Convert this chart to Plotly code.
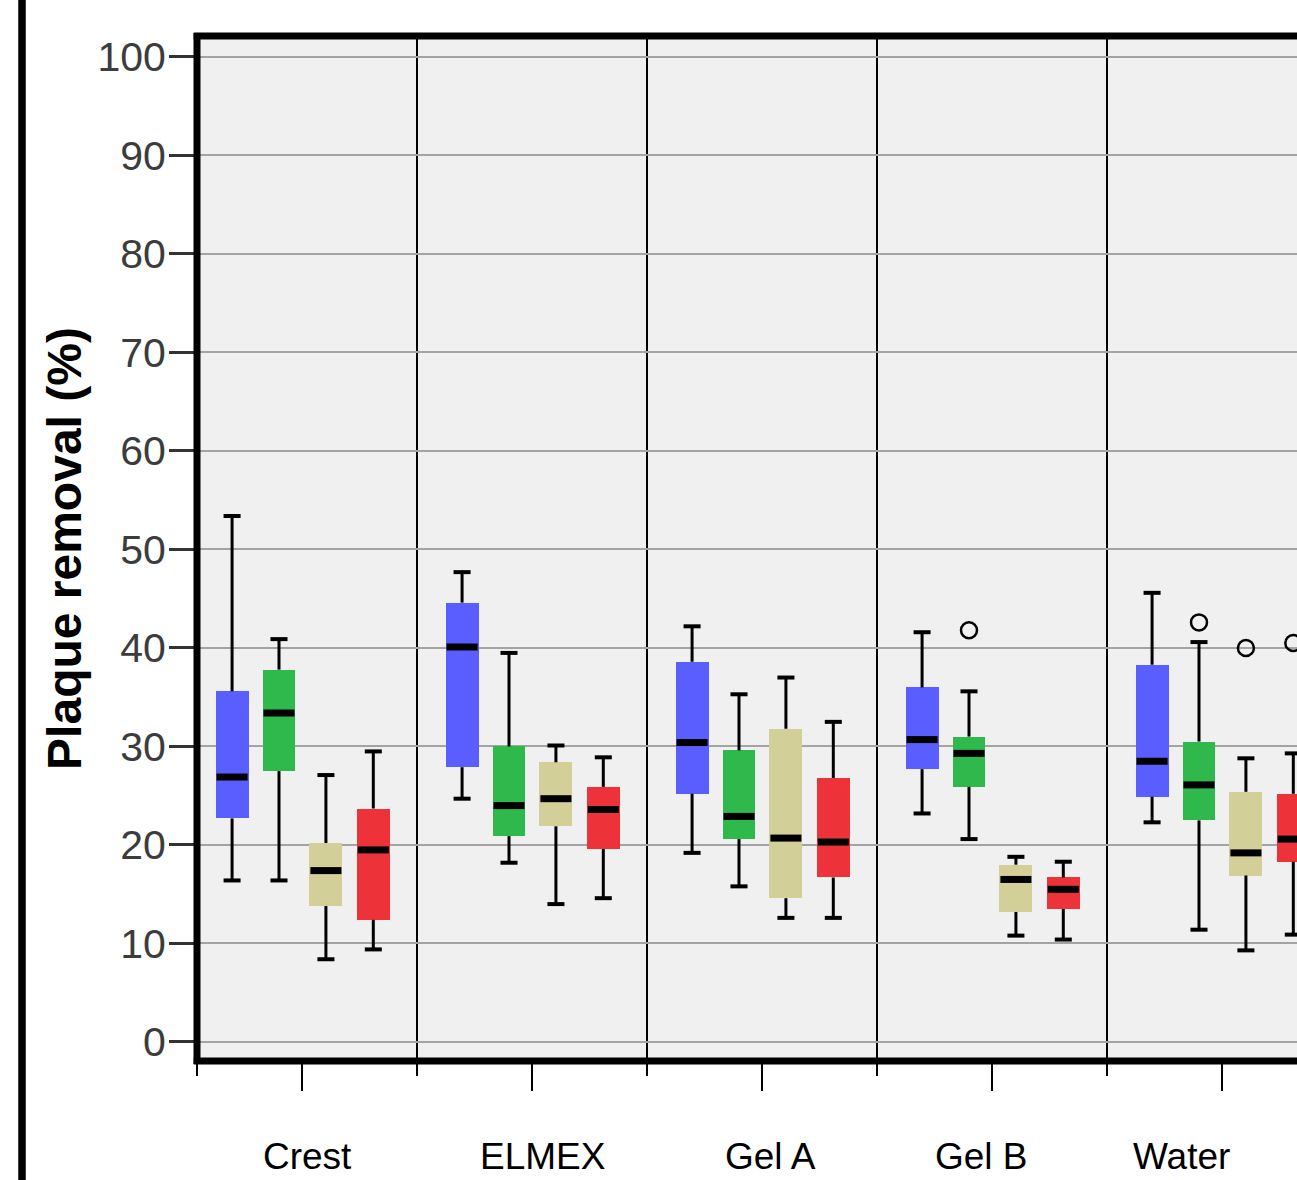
import plotly.graph_objects as go

# ---------------- data ----------------
groups = ["Crest", "ELMEX", "Gel A", "Gel B", "Water"]
series_names = ["Series 1", "Series 2", "Series 3", "Series 4"]
series_colors = ["#5b5eff", "#2fb84b", "#d3cf98", "#ee3239"]

blue_low = [16.4, 24.7, 19.2, 23.2, 22.3]
blue_q1 = [22.7, 27.9, 25.2, 27.7, 24.9]
blue_med = [26.9, 40.1, 30.4, 30.7, 28.5]
blue_q3 = [35.6, 44.6, 38.6, 36.0, 38.3]
blue_high = [53.4, 47.7, 42.2, 41.6, 45.6]

green_low = [16.4, 18.2, 15.8, 20.6, 11.4]
green_q1 = [27.5, 20.9, 20.6, 25.9, 22.5]
green_med = [33.4, 24.0, 22.9, 29.3, 26.1]
green_q3 = [37.8, 30.0, 29.6, 31.0, 30.5]
green_high = [40.9, 39.5, 35.3, 35.6, 40.6]

tan_low = [8.4, 14.0, 12.6, 10.8, 9.3]
tan_q1 = [13.8, 21.9, 14.6, 13.2, 16.9]
tan_med = [17.4, 24.7, 20.7, 16.5, 19.2]
tan_q3 = [20.2, 28.4, 31.8, 18.0, 25.4]
tan_high = [27.1, 30.1, 37.0, 18.8, 28.8]

red_low = [9.4, 14.6, 12.6, 10.4, 10.9]
red_q1 = [12.4, 19.6, 16.7, 13.5, 18.3]
red_med = [19.5, 23.6, 20.3, 15.5, 20.6]
red_q3 = [23.7, 25.9, 26.8, 16.7, 25.2]
red_high = [29.5, 28.9, 32.5, 18.3, 29.3]

# outliers: (group, value)
green_out_groups = ["Gel B", "Water"]
green_out_vals = [41.8, 42.6]
tan_out_groups = ["Water"]
tan_out_vals = [40.0]
red_out_groups = ["Water"]
red_out_vals = [40.5]

y_ticks = [0, 10, 20, 30, 40, 50, 60, 70, 80, 90, 100]
y_title = "Plaque removal (%)"

# ---------------- layout helpers ----------------
stats = [
    (blue_low, blue_q1, blue_med, blue_q3, blue_high, [], []),
    (green_low, green_q1, green_med, green_q3, green_high, green_out_groups, green_out_vals),
    (tan_low, tan_q1, tan_med, tan_q3, tan_high, tan_out_groups, tan_out_vals),
    (red_low, red_q1, red_med, red_q3, red_high, red_out_groups, red_out_vals),
]
offsets = [0.196, 0.400, 0.604, 0.810]   # position of each series inside a group (group width = 1)
box_w = 0.143
cap_hw = 0.037

fig = go.Figure()

for si, (lo, q1, med, q3, hi, og, ov) in enumerate(stats):
    xs = [gi + offsets[si] for gi in range(len(groups))]
    color = series_colors[si]
    # box body
    fig.add_trace(go.Bar(
        x=xs, base=q1, y=[b - a for a, b in zip(q1, q3)], width=box_w,
        marker=dict(color=color, line=dict(width=0)), name=series_names[si],
        showlegend=False))
    # whisker stems
    wx, wy = [], []
    cx, cy = [], []
    for x, a, b, c, d in zip(xs, lo, q1, q3, hi):
        wx += [x, x, None, x, x, None]
        wy += [c, d, None, a, b, None]
        cx += [x - cap_hw, x + cap_hw, None, x - cap_hw, x + cap_hw, None]
        cy += [d, d, None, a, a, None]
    fig.add_trace(go.Scatter(x=wx, y=wy, mode="lines",
                             line=dict(color="black", width=3), showlegend=False,
                             hoverinfo="skip"))
    # whisker caps
    fig.add_trace(go.Scatter(x=cx, y=cy, mode="lines",
                             line=dict(color="black", width=4), showlegend=False,
                             hoverinfo="skip"))
    # medians
    mx, my = [], []
    for x, m in zip(xs, med):
        mx += [x - box_w / 2 + 0.004, x + box_w / 2 - 0.004, None]
        my += [m, m, None]
    fig.add_trace(go.Scatter(x=mx, y=my, mode="lines",
                             line=dict(color="black", width=7), showlegend=False,
                             hoverinfo="skip"))
    # outliers
    if og:
        fig.add_trace(go.Scatter(
            x=[groups.index(g) + offsets[si] for g in og], y=ov, mode="markers",
            marker=dict(symbol="circle-open", size=16, color="black",
                        line=dict(width=2.5, color="black")),
            showlegend=False))

PX0 = 187.0      # pixel where group 0 starts
GW = 230.0       # pixel width of one group
L, R_EDGE = 197, 1297
T, B = 36, 1061

fig.update_layout(
    width=1297, height=1180,
    margin=dict(l=L, r=0, t=T, b=1180 - B, pad=0),
    paper_bgcolor="white", plot_bgcolor="#f0f0f0",
    barmode="overlay", bargap=0,
    font=dict(family="Liberation Sans, Arial, sans-serif", color="#333333"),
    showlegend=False,
)

fig.update_xaxes(
    range=[(L - PX0) / GW, (R_EDGE - PX0) / GW],
    tickmode="array", tickvals=[g + 0.5 for g in range(len(groups))],
    showticklabels=False, ticks="outside", ticklen=29, tickwidth=2, tickcolor="black",
    showgrid=False, zeroline=False, showline=False,
    minor=dict(tickmode="array", tickvals=[(L - PX0) / GW] + list(range(1, len(groups))),
               ticks="outside", ticklen=14, tickwidth=2, tickcolor="black",
               showgrid=True, gridcolor="black", gridwidth=2),
)

y0 = -1.93
y1 = 102.13
fig.update_yaxes(
    range=[y0, y1], tickmode="array", tickvals=y_ticks,
    ticks="outside", ticklen=27, tickwidth=2.5, tickcolor="#333333",
    tickfont=dict(size=41, color="#3c3c3c"),
    ticklabelstandoff=-5,
    showgrid=True, gridcolor="#a3a3a3", gridwidth=1.5,
    zeroline=False, showline=False,
    title=dict(text="<b>" + y_title + "</b>", font=dict(size=48, color="black"), standoff=0),
)

# frame (top, left, bottom) and outer figure edge line
frame = dict(color="black", width=7)
fig.add_shape(type="line", xref="paper", yref="paper", x0=-0.003, x1=1.01, y0=1, y1=1, line=frame)
fig.add_shape(type="line", xref="paper", yref="paper", x0=0, x1=0, y0=-0.003, y1=1.003, line=frame)
fig.add_shape(type="line", xref="paper", yref="paper", x0=-0.003, x1=1.01, y0=0, y1=0, line=frame)
plot_w = R_EDGE - L
plot_h = B - T
fig.add_shape(type="line", xref="paper", yref="paper",
              x0=(22 - L) / plot_w, x1=(22 - L) / plot_w,
              y0=(B - 1185) / plot_h, y1=(B + 5) / plot_h,
              line=dict(color="black", width=7.5))

# category labels (SPSS places them slightly off the tick centres)
label_px = [307, 542, 770, 981, 1181]
for name, px in zip(groups, label_px):
    fig.add_annotation(x=(px - PX0) / GW, xref="x", y=(B - 1156) / plot_h, yref="paper",
                       text=name, showarrow=False, xanchor="center", yanchor="middle",
                       font=dict(size=37, color="black"))

fig.write_html("out.html")
